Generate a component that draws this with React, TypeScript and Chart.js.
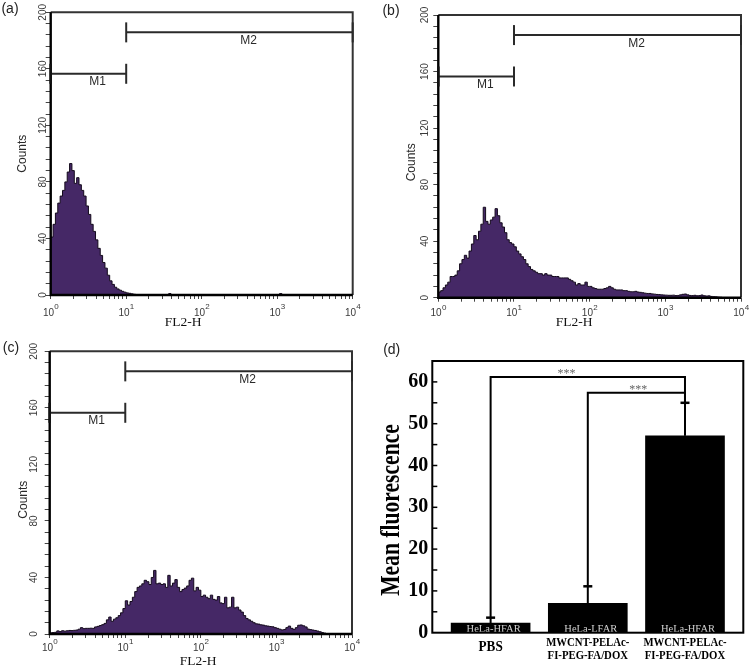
import React, { useEffect, useRef } from 'react';
import { Chart, registerables } from 'chart.js';

Chart.register(...registerables);

// ---------------- data ----------------
// histogram channels grouped in bins of 1/32 decade, starting at 10^0
const BIN_STEP = 1 / 32;
const decadeExponents = ['0', '1', '2', '3', '4'];
const countTickLabels = [0, 40, 80, 120, 160, 200];

const gateNames = ['M1', 'M2'];
const gateFrom = [0, 1];
const gateTo = [1, 4];
const gateLevel = [156.5, 185.8];
const gateLabelPos = [0.62, 2.62];
const gateLabelLevel = [151, 180];

// (a)
const countsA = [
  118, 41, 50, 58, 65, 70, 74, 80, 87, 93,
  88, 79, 83, 78, 74, 70, 63, 57, 50, 45,
  39, 33, 28, 23, 19, 14, 10, 7.5, 5.5, 4.3,
  3.4, 2.6, 2, 1.5, 1.2, 0.8, 0.5, 0.3, 0, 0,
  0, 0, 0, 0, 0, 0, 0, 0, 0, 0,
  0, 1, 0, 0, 0, 0, 0, 0, 0, 0,
  0, 0, 0, 0, 0, 0, 0, 0, 0, 0,
  0, 0, 0, 0, 0, 0, 0, 0, 0, 0,
  0, 0, 0, 0, 0, 0, 0, 0, 0, 0,
  0, 0, 0, 0, 0, 0, 0, 0, 1, 0,
  0, 0, 0, 0, 0, 0, 0, 0, 0, 0,
  0, 0, 0, 0, 0, 0, 0, 0, 0, 0,
  0, 0, 0, 0, 0, 0, 0, 0,
];

// (b)
const countsB = [
  43, 4, 5, 7, 9, 11, 15, 15, 16, 19,
  24, 27, 30, 28, 33, 38, 44, 41, 47, 52,
  64, 54, 52, 55, 57, 63, 58, 53, 50, 46,
  41, 39, 38, 36, 33, 31, 29, 27, 24, 22,
  20, 19, 18, 17, 17, 16, 17, 16, 16, 15,
  15, 15, 14, 14, 14, 14, 13, 12, 11, 9,
  10, 9, 9, 11, 8, 8, 7, 6.5, 6, 6,
  6, 6.5, 7, 8, 7, 6, 5.5, 5.5, 5.5, 5,
  5, 4.5, 4.2, 4.2, 4.5, 4, 3.8, 3.5, 3.2, 3,
  3, 2.7, 2.5, 2.3, 2.2, 2, 1.9, 1.8, 1.7, 1.7,
  1.8, 1.5, 1.6, 2, 2.4, 2.6, 2, 1.6, 1.5, 1.7,
  1.4, 1.5, 1.9, 1.4, 1.2, 1.3, 0.9, 0.7, 0.6, 0.4,
  0.3, 0, 0, 0, 0, 0, 0, 0,
];

// (c)
const countsC = [
  0.5, 0.8, 1, 1.2, 2.2, 1.7, 2.3, 2, 2.3, 2.5,
  2.4, 2.6, 2.8, 3.4, 4.5, 3.8, 4, 4, 4.1, 4,
  5, 5.4, 6, 6.6, 7.5, 10, 12, 9, 10.5, 11.5,
  13, 15, 18, 23.5, 20.5, 23, 26, 30, 33, 34,
  35.5, 38, 37, 35, 40, 45, 35.5, 36, 35, 35.5,
  33, 41.5, 34, 36, 38.5, 33, 30, 31.5, 32.5, 34,
  38, 39.5, 30.5, 33, 31, 26.5, 27.5, 26, 25, 27.5,
  24.5, 24, 26.5, 22, 21.5, 26, 18.5, 19, 26, 18.5,
  19, 17, 15.5, 13, 11, 10, 9, 8, 7.2, 7,
  6.5, 6.3, 5.8, 5.6, 5.3, 5.1, 4.5, 4, 3.4, 2.9,
  3.2, 4.5, 5.6, 4, 3.3, 4.5, 6.2, 6.4, 5.8, 5,
  3.5, 3.1, 2.8, 2.5, 2.1, 1.6, 1, 0.6, 0.2, 0,
  0, 0, 0, 0, 0, 0, 0, 0,
];

// (d)
const groupLabels = [['PBS'], ['MWCNT-PELAc-', 'FI-PEG-FA/DOX'], ['MWCNT-PELAc-', 'FI-PEG-FA/DOX']];
const cellLines = ['HeLa-HFAR', 'HeLa-LFAR', 'HeLa-HFAR'];
const groupPos = [1, 2, 3];
const meanFluorescence = [2.3, 7.0, 47.1];
const meanError = [1.3, 4.1, 7.9];
const fluorTicks = [0, 10, 20, 30, 40, 50, 60];
const sigPairs = [[0, 2], [1, 2]];
const sigLevel = [61.2, 57.4];
const sigMark = ['***', '***'];
const sigMarkPos = [1.78, 2.52];

// ---------------- styles ----------------
const SANS = '"Liberation Sans", Arial, Helvetica, sans-serif';
const SERIF = '"Liberation Serif", "Times New Roman", Times, serif';
const HIST_FILL = '#452866';
const HIST_LINE = '#140a1c';

type HistSpec = {
  letter: string;
  counts: number[];
  left: number; top: number; width: number; height: number;
  area: { l: number; t: number; r: number; b: number };
  yLabelX: number; countsX: number; countsDy: number;
  xLabelDy: number; titleX: number; titleY: number;
  letterX: number; letterY: number;
};

const histSpecs: HistSpec[] = [
  {
    letter: '(a)', counts: countsA, left: 0, top: 0, width: 375, height: 333,
    area: { l: 50.7, t: 12.3, r: 352.7, b: 295 },
    yLabelX: 43, countsX: 22.7, countsDy: 0, xLabelDy: 20.5, titleX: 183, titleY: 322,
    letterX: 10, letterY: 9,
  },
  {
    letter: '(b)', counts: countsB, left: 375, top: 0, width: 375, height: 333,
    area: { l: 63.3, t: 15, r: 366, b: 297.7 },
    yLabelX: 50.3, countsX: 36.7, countsDy: 6, xLabelDy: 18.3, titleX: 199, titleY: 322,
    letterX: 16, letterY: 11,
  },
  {
    letter: '(c)', counts: countsC, left: 0, top: 333, width: 375, height: 337,
    area: { l: 49.7, t: 18.3, r: 352, b: 301 },
    yLabelX: 34, countsX: 23.3, countsDy: 7, xLabelDy: 16.7, titleX: 198, titleY: 328,
    letterX: 11, letterY: 15,
  },
];

const logTickValues = (() => {
  const v: number[] = [];
  for (let d = 0; d < 4; d++) for (let k = 1; k <= 9; k++) v.push(d + Math.log10(k));
  v.push(4);
  return v;
})();
const countMinorTicks = (() => {
  const v: number[] = [];
  for (let c = 0; c <= 200; c += 8) v.push(c);
  return v;
})();

function line(ctx: CanvasRenderingContext2D, x0: number, y0: number, x1: number, y1: number) {
  ctx.beginPath();
  ctx.moveTo(x0, y0);
  ctx.lineTo(x1, y1);
  ctx.stroke();
}

function drawPow(ctx: CanvasRenderingContext2D, x: number, y: number, exp: string) {
  const base = `10px ${SANS}`;
  const small = `8px ${SANS}`;
  ctx.font = base;
  const w1 = ctx.measureText('10').width;
  ctx.font = small;
  const w2 = ctx.measureText(exp).width;
  const start = x - (w1 + w2) / 2;
  ctx.textAlign = 'left';
  ctx.textBaseline = 'alphabetic';
  ctx.font = base;
  ctx.fillText('10', start, y);
  ctx.font = small;
  ctx.fillText(exp, start + w1 + 0.3, y - 6.5);
}

function drawHistDecor(chart: any, s: HistSpec) {
  const ctx: CanvasRenderingContext2D = chart.ctx;
  const xs = chart.scales.x;
  const ys = chart.scales.y;
  const ca = chart.chartArea;
  ctx.save();
  // frame
  ctx.strokeStyle = '#333';
  ctx.lineWidth = 2;
  ctx.beginPath();
  ctx.moveTo(ca.left, ca.top);
  ctx.lineTo(ca.right, ca.top);
  ctx.lineTo(ca.right, ca.bottom);
  ctx.stroke();
  ctx.strokeStyle = '#000';
  ctx.lineWidth = 2.4;
  ctx.beginPath();
  ctx.moveTo(ca.left, ca.top);
  ctx.lineTo(ca.left, ca.bottom);
  ctx.lineTo(ca.right, ca.bottom);
  ctx.stroke();

  // gates
  gateNames.forEach((name, g) => {
    const x0 = xs.getPixelForValue(gateFrom[g]);
    const x1 = xs.getPixelForValue(gateTo[g]);
    const y = ys.getPixelForValue(gateLevel[g]);
    ctx.strokeStyle = '#2a2a2a';
    ctx.lineWidth = 2;
    line(ctx, x0, y, x1, y);
    line(ctx, x1, y - 10, x1, y + 10);
    ctx.lineWidth = gateFrom[g] === 0 ? 2.6 : 2;
    ctx.strokeStyle = gateFrom[g] === 0 ? '#111' : '#2a2a2a';
    line(ctx, x0, y - 10, x0, y + 10);
    ctx.fillStyle = '#2a2a2a';
    ctx.font = `12px ${SANS}`;
    ctx.textAlign = 'center';
    ctx.textBaseline = 'middle';
    ctx.fillText(name, xs.getPixelForValue(gateLabelPos[g]), ys.getPixelForValue(gateLabelLevel[g]));
  });

  // rotated count labels
  ctx.fillStyle = '#3a3a3a';
  ctx.font = `10px ${SANS}`;
  countTickLabels.forEach((v) => {
    ctx.save();
    ctx.translate(s.yLabelX, ys.getPixelForValue(v));
    ctx.rotate(-Math.PI / 2);
    ctx.textAlign = 'center';
    ctx.textBaseline = 'middle';
    ctx.fillText(String(v), 0, 0);
    ctx.restore();
  });
  ctx.save();
  ctx.translate(s.countsX, (ca.top + ca.bottom) / 2 + s.countsDy);
  ctx.rotate(-Math.PI / 2);
  ctx.font = `12px ${SANS}`;
  ctx.fillStyle = '#2a2a2a';
  ctx.textAlign = 'center';
  ctx.textBaseline = 'middle';
  ctx.fillText('Counts', 0, 0);
  ctx.restore();

  // decade labels
  ctx.fillStyle = '#3a3a3a';
  decadeExponents.forEach((e, k) => drawPow(ctx, xs.getPixelForValue(k), ca.bottom + s.xLabelDy, e));

  // axis title
  ctx.fillStyle = '#111';
  ctx.font = `13.5px ${SERIF}`;
  ctx.textAlign = 'center';
  ctx.textBaseline = 'middle';
  ctx.fillText('FL2-H', s.titleX, s.titleY);

  // panel letter
  ctx.fillStyle = '#222';
  ctx.font = `14px ${SANS}`;
  ctx.fillText(s.letter, s.letterX, s.letterY);
  ctx.restore();
}

function histConfig(s: HistSpec) {
  const pts = s.counts.map((c, i) => ({ x: i * BIN_STEP, y: c }));
  pts.push({ x: 4, y: s.counts[s.counts.length - 1] });
  return {
    type: 'line',
    data: {
      datasets: [{
        data: pts,
        stepped: 'after',
        fill: 'origin',
        backgroundColor: HIST_FILL,
        borderColor: HIST_LINE,
        borderWidth: 1,
        pointRadius: 0,
        tension: 0,
      }],
    },
    options: {
      responsive: false,
      animation: false,
      devicePixelRatio: 1,
      events: [],
      layout: { padding: { left: 0, top: s.area.t, right: s.width - s.area.r, bottom: 0 } },
      plugins: { legend: { display: false }, tooltip: { enabled: false } },
      scales: {
        x: {
          type: 'linear', min: 0, max: 4,
          afterFit: (sc: any) => { sc.height = s.height - s.area.b; },
          afterBuildTicks: (sc: any) => { sc.ticks = logTickValues.map((v) => ({ value: v })); },
          ticks: { display: false },
          grid: { display: true, drawOnChartArea: false, drawTicks: true, tickLength: 4, color: '#444', lineWidth: 1 },
          border: { display: false },
        },
        y: {
          type: 'linear', min: 0, max: 200,
          afterFit: (sc: any) => { sc.width = s.area.l; },
          afterBuildTicks: (sc: any) => { sc.ticks = countMinorTicks.map((v) => ({ value: v })); },
          ticks: { display: false },
          grid: { display: true, drawOnChartArea: false, drawTicks: true, tickLength: 5, color: '#444', lineWidth: 1 },
          border: { display: false },
        },
      },
    },
    plugins: [{ id: 'histDecor', afterDraw: (chart: any) => drawHistDecor(chart, s) }],
  };
}

function drawScaled(ctx: CanvasRenderingContext2D, text: string, x: number, y: number, font: string, sx: number) {
  ctx.save();
  ctx.translate(x, y);
  ctx.scale(sx, 1);
  ctx.font = font;
  ctx.textAlign = 'center';
  ctx.textBaseline = 'middle';
  ctx.fillText(text, 0, 0);
  ctx.restore();
}

function drawBarDecor(chart: any) {
  const ctx: CanvasRenderingContext2D = chart.ctx;
  const xs = chart.scales.x;
  const ys = chart.scales.y;
  const ca = chart.chartArea;
  ctx.save();
  // cell line labels inside bars
  ctx.font = `10.5px ${SERIF}`;
  ctx.fillStyle = '#d2d2d2';
  ctx.textAlign = 'center';
  ctx.textBaseline = 'alphabetic';
  cellLines.forEach((t, i) => ctx.fillText(t, xs.getPixelForValue(groupPos[i]) + 3, ca.bottom - 1));

  // frame
  ctx.strokeStyle = '#000';
  ctx.lineWidth = 2;
  ctx.strokeRect(ca.left, ca.top, ca.right - ca.left, ca.bottom - ca.top);
  // inner ticks
  ctx.lineWidth = 1.5;
  for (let v = 5; v < 65; v += 5) {
    const y = ys.getPixelForValue(v);
    line(ctx, ca.left, y, ca.left + 5, y);
  }

  // error bars
  ctx.lineWidth = 2;
  meanFluorescence.forEach((m, i) => {
    const x = xs.getPixelForValue(groupPos[i]);
    const y0 = ys.getPixelForValue(m);
    const y1 = ys.getPixelForValue(m + meanError[i]);
    line(ctx, x, y0, x, y1);
    ctx.lineWidth = 2.5;
    line(ctx, x - 4.5, y1, x + 4.5, y1);
    ctx.lineWidth = 2;
  });

  // significance brackets
  sigPairs.forEach(([a, b], k) => {
    const xa = xs.getPixelForValue(groupPos[a]);
    const xb = xs.getPixelForValue(groupPos[b]);
    const ya = ys.getPixelForValue(meanFluorescence[a] + meanError[a]);
    const yb = ys.getPixelForValue(meanFluorescence[b] + meanError[b]);
    const yl = ys.getPixelForValue(sigLevel[k]);
    ctx.beginPath();
    ctx.moveTo(xa, ya);
    ctx.lineTo(xa, yl);
    ctx.lineTo(xb, yl);
    ctx.lineTo(xb, yb);
    ctx.stroke();
    ctx.fillStyle = '#666';
    ctx.font = `12px ${SERIF}`;
    ctx.textAlign = 'center';
    ctx.textBaseline = 'alphabetic';
    ctx.fillText(sigMark[k], xs.getPixelForValue(sigMarkPos[k]), yl);
  });

  // category labels
  ctx.fillStyle = '#000';
  groupLabels.forEach((lines, i) => {
    const x = xs.getPixelForValue(groupPos[i]);
    if (lines.length === 1) {
      drawScaled(ctx, lines[0], x, ca.bottom + 14, `bold 15px ${SERIF}`, 0.88);
    } else {
      lines.forEach((t, j) => drawScaled(ctx, t, x, ca.bottom + 9.8 + j * 13, `bold 12.5px ${SERIF}`, 0.86));
    }
  });

  // y title
  ctx.save();
  ctx.translate(17, 177);
  ctx.rotate(-Math.PI / 2);
  ctx.scale(0.8, 1);
  ctx.font = `bold 27px ${SERIF}`;
  ctx.fillStyle = '#000';
  ctx.textAlign = 'center';
  ctx.textBaseline = 'middle';
  ctx.fillText('Mean fluorescence', 0, 0);
  ctx.restore();

  // letter
  ctx.fillStyle = '#222';
  ctx.font = `14px ${SANS}`;
  ctx.textAlign = 'center';
  ctx.textBaseline = 'middle';
  ctx.fillText('(d)', 16.7, 17.5);
  ctx.restore();
}

const BAR_W = 375;
const BAR_H = 337;
const barArea = { l: 57.3, t: 28, r: 368.3, b: 299.7 };

function barConfig() {
  return {
    type: 'bar',
    data: {
      datasets: [{
        data: meanFluorescence.map((v, i) => ({ x: groupPos[i], y: v })),
        backgroundColor: '#000',
        borderWidth: 0,
        barThickness: 79,
      }],
    },
    options: {
      responsive: false,
      animation: false,
      devicePixelRatio: 1,
      events: [],
      layout: { padding: { left: 0, top: barArea.t, right: BAR_W - barArea.r, bottom: 0 } },
      plugins: { legend: { display: false }, tooltip: { enabled: false } },
      scales: {
        x: {
          type: 'linear', min: 0.4, max: 3.6, offset: false,
          afterFit: (sc: any) => { sc.height = BAR_H - barArea.b; },
          afterBuildTicks: (sc: any) => { sc.ticks = groupPos.map((v) => ({ value: v })); },
          ticks: { display: false },
          grid: { display: false, drawTicks: false },
          border: { display: false },
        },
        y: {
          type: 'linear', min: 0, max: 65,
          afterFit: (sc: any) => { sc.width = barArea.l; },
          afterBuildTicks: (sc: any) => { sc.ticks = fluorTicks.map((v) => ({ value: v })); },
          ticks: {
            display: true, color: '#000', padding: 4,
            font: { family: SERIF, size: 20, weight: 'bold' },
            callback: (v: any) => String(v),
          },
          grid: { display: false, drawTicks: false },
          border: { display: false },
        },
      },
    },
    plugins: [{ id: 'barDecor', afterDraw: (chart: any) => drawBarDecor(chart) }],
  };
}

function ChartCanvas(props: { left: number; top: number; width: number; height: number; makeConfig: () => any }) {
  const ref = useRef<HTMLCanvasElement>(null);
  useEffect(() => {
    const chart = new Chart(ref.current as HTMLCanvasElement, props.makeConfig());
    return () => chart.destroy();
  }, []);
  return (
    <canvas
      ref={ref}
      width={props.width}
      height={props.height}
      style={{ position: 'absolute', left: props.left, top: props.top, width: props.width, height: props.height }}
    />
  );
}

export default function App() {
  return (
    <div style={{ position: 'fixed', left: 0, top: 0, width: 750, height: 670, background: '#fff', overflow: 'hidden' }}>
      {histSpecs.map((s) => (
        <ChartCanvas key={s.letter} left={s.left} top={s.top} width={s.width} height={s.height} makeConfig={() => histConfig(s)} />
      ))}
      <ChartCanvas left={375} top={333} width={BAR_W} height={BAR_H} makeConfig={barConfig} />
    </div>
  );
}
